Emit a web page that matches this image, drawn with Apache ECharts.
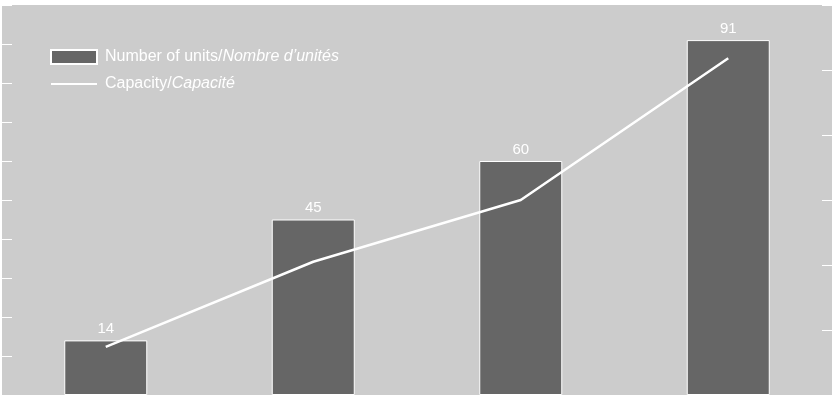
<!DOCTYPE html>
<html>
<head>
<meta charset="utf-8">
<script src="https://cdn.jsdelivr.net/npm/echarts@6/dist/echarts.min.js"></script>
<style>
html,body{margin:0;padding:0;background:#ffffff;}
#chart{width:832px;height:395px;}
</style>
</head>
<body>
<div id="chart"></div>
<script>
const categories = ['A', 'B', 'C', 'D'];
const unitsValues = [14, 45, 60, 91];
const capacityValues = [740, 2050, 3000, 5180];
const unitsName = 'Number of units/Nombre d\u2019unit\u00e9s';
const capacityName = 'Capacity/Capacit\u00e9';

const chart = echarts.init(document.getElementById('chart'), null, {renderer: 'canvas'});
const font = 'Liberation Sans, Arial, sans-serif';
chart.setOption({
  animation: false,
  backgroundColor: '#ffffff',
  grid: {left: 2, right: 0, top: 5, bottom: 0, show: true, backgroundColor: '#cccccc', borderWidth: 0},
  legend: {
    orient: 'vertical', left: 50, top: 49, padding: 0,
    itemWidth: 46, itemHeight: 14, itemGap: 11,
    data: [
      {name: unitsName, icon: 'rect'},
      {name: capacityName, itemStyle: {opacity: 0}}
    ],
    formatter: function (name) {
      const parts = name.split('/');
      return '{n|' + parts[0] + '/}{i|' + parts[1] + '}';
    },
    textStyle: {
      color: '#ffffff', fontFamily: font, fontSize: 16, lineHeight: 14, padding: [0, 0, 0, 3],
      rich: {
        n: {color: '#ffffff', fontFamily: font, fontSize: 16, lineHeight: 14},
        i: {color: '#ffffff', fontFamily: font, fontSize: 16, lineHeight: 14, fontStyle: 'italic'}
      }
    }
  },
  xAxis: {
    type: 'category', data: categories,
    axisLine: {show: false}, axisTick: {show: false}, axisLabel: {show: false}
  },
  yAxis: [
    {type: 'value', min: 0, max: 100, interval: 10,
     axisLine: {show: false}, axisLabel: {show: false}, splitLine: {show: false},
     axisTick: {show: true, inside: true, length: 10, lineStyle: {color: '#ffffff', width: 1}}},
    {type: 'value', min: 0, max: 6000, interval: 1000, position: 'right',
     axisLine: {show: false}, axisLabel: {show: false}, splitLine: {show: false},
     axisTick: {show: true, inside: true, length: 10, lineStyle: {color: '#ffffff', width: 1}}}
  ],
  series: [
    {name: unitsName, type: 'bar', data: unitsValues, barWidth: '40%', yAxisIndex: 0,
     itemStyle: {color: '#666666', borderColor: '#ffffff', borderWidth: 1},
     label: {show: true, position: 'top', color: '#ffffff', fontFamily: font, fontSize: 15, distance: 4}},
    {name: capacityName, type: 'line', data: capacityValues, yAxisIndex: 1,
     symbol: 'none', lineStyle: {color: '#ffffff', width: 2.5}, itemStyle: {color: '#ffffff'}}
  ]
});
</script>
</body>
</html>
